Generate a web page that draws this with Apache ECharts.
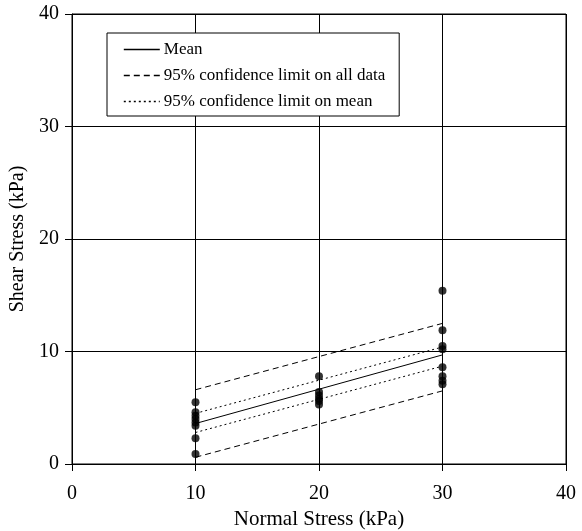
<!DOCTYPE html>
<html><head><meta charset="utf-8">
<script src="https://cdn.jsdelivr.net/npm/echarts@6/dist/echarts.min.js"></script>
<style>html,body{margin:0;padding:0;background:#fff}#c{width:582px;height:531px}</style>
</head><body><div id="c"></div>
<script>
const xTicks = [0, 10, 20, 30, 40];
const yTicks = [0, 10, 20, 30, 40];
const normal10 = [5.5, 4.6, 4.3, 4.0, 3.7, 3.4, 2.3, 0.9];
const normal20 = [7.8, 6.4, 6.1, 5.8, 5.6, 5.3];
const normal30 = [15.4, 11.9, 10.5, 10.2, 8.6, 7.8, 7.4, 7.1];
const lineX = [10, 30];
const meanY = [3.6, 9.7];
const allUpperY = [6.6, 12.5];
const allLowerY = [0.6, 6.5];
const meanUpperY = [4.5, 10.4];
const meanLowerY = [2.8, 8.7];
const legendNames = ['Mean', '95% confidence limit on all data', '95% confidence limit on mean'];

const pts = [];
normal10.forEach(v => pts.push([10, v]));
normal20.forEach(v => pts.push([20, v]));
normal30.forEach(v => pts.push([30, v]));
const pair = ys => lineX.map((x, i) => [x, ys[i]]);

const font = 'Liberation Serif';
const chart = echarts.init(document.getElementById('c'));
const lineSeries = (ys, type, legendName) => ({
  type: 'line', name: legendName, data: pair(ys), symbol: 'none',
  lineStyle: { color: '#000', width: 1, type: type }, itemStyle: { color: '#000' },
  silent: true, z: 3
});
chart.setOption({
  animation: false,
  grid: { left: 72, right: 16, top: 14, bottom: 67, show: true, borderColor: '#000', borderWidth: 1,
          containLabel: false, outerBoundsMode: 'none' },
  xAxis: {
    type: 'value', min: 0, max: 40, interval: 10,
    name: 'Normal Stress (kPa)', nameLocation: 'middle', nameGap: 44,
    nameTextStyle: { fontFamily: font, fontSize: 21, color: '#000' },
    axisLine: { lineStyle: { color: '#000' } },
    axisTick: { show: true, length: 7, lineStyle: { color: '#000' } },
    axisLabel: { fontFamily: font, fontSize: 20, color: '#000', margin: 20 },
    splitLine: { lineStyle: { color: '#000', width: 1 } }
  },
  yAxis: {
    type: 'value', min: 0, max: 40, interval: 10,
    name: 'Shear Stress (kPa)', nameLocation: 'middle', nameGap: 40,
    nameTextStyle: { fontFamily: font, fontSize: 20, color: '#000' },
    axisLine: { show: true, lineStyle: { color: '#000' } },
    axisTick: { show: true, length: 7, lineStyle: { color: '#000' } },
    axisLabel: { fontFamily: font, fontSize: 20, color: '#000', margin: 13 },
    splitLine: { lineStyle: { color: '#000', width: 1 } }
  },
  legend: {
    orient: 'vertical', left: 107, top: 33,
    backgroundColor: '#fff', borderColor: '#000', borderWidth: 1,
    padding: [8, 14, 6, 16], itemGap: 9, itemWidth: 36, itemHeight: 17,
    textStyle: { fontFamily: font, fontSize: 17, color: '#000', padding: [0, 0, 0, -1] },
    itemStyle: { color: 'rgba(0,0,0,0)', borderColor: 'rgba(0,0,0,0)', borderWidth: 0, opacity: 0 },
    lineStyle: { width: 1.6 },
    data: legendNames
  },
  series: [
    lineSeries(meanY, 'solid', legendNames[0]),
    lineSeries(allUpperY, [6, 4], legendNames[1]),
    lineSeries(allLowerY, [6, 4], legendNames[1]),
    lineSeries(meanUpperY, [2, 3], legendNames[2]),
    lineSeries(meanLowerY, [2, 3], legendNames[2]),
    { type: 'scatter', name: 'data', data: pts, symbol: 'circle', symbolSize: 8,
      itemStyle: { color: '#000' }, z: 4 }
  ]
});
</script></body></html>
